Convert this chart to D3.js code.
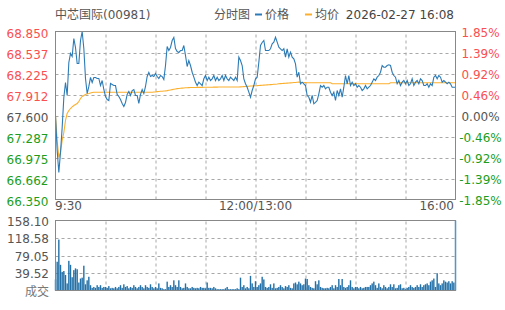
<!DOCTYPE html>
<html>
<head>
<meta charset="utf-8">
<script src="https://cdn.jsdelivr.net/npm/d3@7"></script>
<style>
  body { margin: 0; background: #fff; }
  svg text { font-family: "DejaVu Sans", "Noto Sans CJK SC", sans-serif; font-size: 12px; }
  .vgrid path { display: none; }
  .vgrid line { stroke: #a8a8a8; stroke-dasharray: 3,3; }
</style>
</head>
<body>
<svg id="chart" width="505" height="310"></svg>
<script>
// prev close 67.600, one point per ~1.4 minute
const prices = [
  67.600, 67.079, 66.752, 67.050, 67.422, 67.868, 68.091, 67.898, 68.389, 68.523,
  68.478, 68.746, 68.612, 68.374, 68.374, 68.716, 68.850, 68.597, 68.151, 67.927,
  68.032, 68.166, 68.091, 68.166, 68.166, 68.151, 68.151, 68.046, 68.121, 67.987,
  67.883, 67.838, 67.823, 68.076, 68.061, 68.046, 68.046, 67.913, 67.883, 67.838,
  67.779, 67.734, 67.794, 67.913, 67.957, 67.898, 67.972, 67.987, 67.898, 67.898,
  67.779, 67.913, 67.987, 67.927, 68.032, 68.180, 68.240, 68.180, 68.195, 68.180,
  68.225, 68.180, 68.151, 68.195, 68.180, 68.136, 68.344, 68.627, 68.567, 68.612,
  68.716, 68.761, 68.597, 68.552, 68.538, 68.567, 68.567, 68.642, 68.493, 68.329,
  68.418, 68.344, 68.244, 68.170, 68.096, 68.046, 68.096, 68.072, 68.046, 68.146,
  68.195, 68.121, 68.170, 68.121, 68.146, 68.195, 68.121, 68.170, 68.121, 68.146,
  68.195, 68.121, 68.195, 68.146, 68.121, 68.170, 68.146, 68.121, 68.170, 68.121,
  68.468, 68.418, 68.344, 68.146, 68.072, 68.021, 67.947, 67.872, 67.972, 68.046,
  68.146, 68.170, 68.393, 68.642, 68.686, 68.716, 68.567, 68.567, 68.567, 68.593,
  68.667, 68.691, 68.765, 68.691, 68.616, 68.593, 68.567, 68.593, 68.468, 68.593,
  68.468, 68.542, 68.468, 68.444, 68.369, 68.170, 68.244, 68.072, 68.096, 68.072,
  68.046, 67.898, 67.872, 67.798, 67.898, 67.774, 67.794, 67.823, 67.923, 68.046,
  68.021, 68.046, 67.997, 68.021, 68.021, 67.947, 67.898, 67.947, 67.823, 67.972,
  67.898, 67.997, 67.872, 68.021, 68.195, 68.072, 68.195, 68.046, 68.096, 68.046,
  68.072, 68.021, 68.046, 68.021, 67.972, 67.997, 68.046, 67.997, 68.021, 68.046,
  68.096, 68.146, 68.121, 68.170, 68.195, 68.244, 68.344, 68.319, 68.319, 68.344,
  68.355, 68.344, 68.244, 68.195, 68.170, 68.072, 68.121, 68.046, 68.096, 68.121,
  68.072, 68.121, 68.046, 68.072, 68.146, 68.046, 68.096, 68.121, 68.072, 68.146,
  68.121, 68.046, 68.046, 68.072, 68.021, 68.072, 68.046, 68.170, 68.195, 68.146,
  68.195, 68.170, 68.096, 68.121, 68.096, 68.072, 68.096, 68.072, 68.021, 68.021,
  68.021
];

const avgPrices = [
  67.600, 67.228, 66.975, 67.050, 67.228, 67.347, 67.526, 67.630, 67.674, 67.704,
  67.727, 67.749, 67.764, 67.779, 67.808, 67.853, 67.883, 67.898, 67.913, 67.923,
  67.927, 67.935, 67.942, 67.947, 67.947, 67.947, 67.947, 67.947, 67.947, 67.947,
  67.947, 67.947, 67.947, 67.947, 67.947, 67.947, 67.947, 67.947, 67.947, 67.947,
  67.947, 67.947, 67.947, 67.947, 67.947, 67.947, 67.947, 67.947, 67.947, 67.947,
  67.947, 67.947, 67.947, 67.947, 67.947, 67.947, 67.947, 67.947, 67.947, 67.950,
  67.952, 67.955, 67.957, 67.960, 67.962, 67.965, 67.967, 67.970, 67.975, 67.980,
  67.985, 67.990, 67.995, 68.000, 68.002, 68.005, 68.008, 68.010, 68.012, 68.014,
  68.015, 68.016, 68.016, 68.017, 68.017, 68.018, 68.018, 68.019, 68.019, 68.020,
  68.020, 68.020, 68.021, 68.021, 68.021, 68.022, 68.022, 68.022, 68.023, 68.023,
  68.023, 68.023, 68.024, 68.024, 68.024, 68.024, 68.024, 68.024, 68.024, 68.024,
  68.024, 68.026, 68.028, 68.030, 68.032, 68.034, 68.036, 68.038, 68.040, 68.042,
  68.043, 68.044, 68.046, 68.048, 68.050, 68.052, 68.054, 68.056, 68.058, 68.060,
  68.062, 68.064, 68.066, 68.068, 68.072, 68.074, 68.076, 68.078, 68.080, 68.082,
  68.084, 68.086, 68.088, 68.090, 68.092, 68.094, 68.096, 68.094, 68.092, 68.090,
  68.089, 68.088, 68.087, 68.087, 68.087, 68.087, 68.087, 68.087, 68.087, 68.087,
  68.087, 68.087, 68.087, 68.087, 68.087, 68.087, 68.072, 68.072, 68.072, 68.072,
  68.072, 68.072, 68.072, 68.072, 68.072, 68.072, 68.072, 68.072, 68.072, 68.072,
  68.072, 68.072, 68.072, 68.072, 68.072, 68.072, 68.072, 68.072, 68.072, 68.072,
  68.072, 68.072, 68.072, 68.072, 68.072, 68.072, 68.072, 68.072, 68.072, 68.072,
  68.072, 68.087, 68.087, 68.087, 68.087, 68.087, 68.087, 68.087, 68.087, 68.087,
  68.087, 68.087, 68.087, 68.087, 68.087, 68.087, 68.087, 68.087, 68.087, 68.087,
  68.087, 68.087, 68.087, 68.087, 68.087, 68.087, 68.087, 68.087, 68.087, 68.087,
  68.087, 68.087, 68.087, 68.087, 68.087, 68.087, 68.087, 68.087, 68.087, 68.087,
  68.087
];

const volumes = [
  25, 65, 115, 58, 42, 44, 35, 16, 67, 58,
  30, 46, 50, 48, 18, 27, 29, 56, 14, 23,
  31, 12, 6, 8, 6, 12, 8, 12, 6, 8,
  8, 6, 10, 5, 6, 5, 8, 5, 8, 12,
  6, 14, 8, 10, 5, 8, 6, 12, 8, 5,
  8, 12, 8, 5, 12, 8, 6, 14, 8, 5,
  8, 5, 16, 6, 5, 3, 3, 20, 8, 12,
  8, 23, 12, 8, 23, 8, 5, 6, 16, 8,
  5, 5, 8, 6, 5, 6, 5, 8, 6, 6,
  5, 18, 6, 6, 5, 8, 5, 3, 3, 3,
  3, 3, 5, 8, 3, 3, 3, 3, 3, 5,
  3, 29, 8, 12, 5, 8, 5, 33, 16, 8,
  21, 8, 12, 16, 31, 25, 8, 6, 8, 14,
  6, 16, 5, 6, 8, 12, 8, 5, 10, 8,
  12, 6, 5, 16, 18, 14, 20, 16, 12, 14,
  27, 26, 12, 8, 6, 5, 21, 14, 23, 8,
  6, 5, 5, 6, 5, 8, 12, 5, 12, 8,
  26, 12, 26, 8, 6, 8, 12, 23, 8, 5,
  8, 8, 5, 8, 5, 6, 8, 8, 8, 12,
  16, 20, 12, 6, 16, 8, 5, 12, 8, 5,
  8, 14, 8, 14, 5, 6, 12, 14, 5, 6,
  3, 6, 8, 12, 8, 6, 8, 12, 8, 14,
  8, 12, 14, 16, 12, 20, 23, 27, 8, 39,
  16, 12, 16, 23, 20, 18, 21, 16, 21, 18,
  158.1
];

const prevClose = 67.600;
const priceTicks = [68.850, 68.537, 68.225, 67.912, 67.600, 67.287, 66.975, 66.662, 66.350];
const pctTicks = ["1.85%", "1.39%", "0.92%", "0.46%", "0.00%", "-0.46%", "-0.92%", "-1.39%", "-1.85%"];
const volTicks = [158.10, 118.58, 79.05, 39.52];
const timeLabels = ["9:30", "12:00/13:00", "16:00"];

const red = "#fa5050", green = "#1c9e1c", grey = "#555";
const lineBlue = "#2c7bb6", avgOrange = "#fbb02d", barBlue = "#2170a8";

const svg = d3.select("#chart");
const left = 55.5, right = 455.5;
const n = prices.length;

const x = d3.scaleLinear().domain([0, n - 1]).range([left, right]);
const y = d3.scaleLinear().domain([66.350, 68.850]).range([199.5, 31.5]);
const yv = d3.scaleLinear().domain([0, 158.10]).range([290.5, 220.5]);

const colorOf = v => v > prevClose ? red : (v < prevClose ? green : grey);

// ---header---
svg.append("text").attr("x", 55).attr("y", 19).attr("fill", grey).text("中芯国际(00981)");
svg.append("text").attr("x", 214).attr("y", 19).attr("fill", grey).text("分时图");
svg.append("line").attr("x1", 255).attr("x2", 262).attr("y1", 14.5).attr("y2", 14.5)
  .attr("stroke", lineBlue).attr("stroke-width", 2);
svg.append("text").attr("x", 265).attr("y", 19).attr("fill", grey).text("价格");
svg.append("line").attr("x1", 305).attr("x2", 312).attr("y1", 14.5).attr("y2", 14.5)
  .attr("stroke", avgOrange).attr("stroke-width", 2);
svg.append("text").attr("x", 315).attr("y", 19).attr("fill", grey).text("均价");
svg.append("text").attr("x", 454).attr("y", 19).attr("text-anchor", "end").attr("fill", "#444")
  .text("2026-02-27 16:08");

// ---grids---
const vGrid = [30, 60, 90, 120, 150, 180, 210];
const gridColor = "#a8a8a8";
const hLines = priceTicks.slice(1, -1).map(d => Math.round(y(d)) + 0.5)
  .concat(volTicks.slice(1).map(d => Math.round(yv(d)) + 0.5));
svg.append("g").selectAll("line").data(hLines).join("line")
  .attr("x1", left).attr("x2", right).attr("y1", d => d).attr("y2", d => d)
  .attr("stroke", gridColor).attr("stroke-dasharray", "3,3");

// vertical grid via axes with long ticks
svg.append("g").attr("class", "vgrid")
  .attr("transform", `translate(0,${y(66.350)})`)
  .call(d3.axisBottom(x).tickValues(vGrid).tickSize(-(y(66.350) - y(68.850))).tickFormat(""));
svg.append("g").attr("class", "vgrid")
  .attr("transform", `translate(0,${yv(0)})`)
  .call(d3.axisBottom(x).tickValues(vGrid).tickSize(-(yv(0) - yv(158.10))).tickFormat(""));

// ---axis labels---
svg.selectAll(".pl").data(priceTicks).join("text")
  .attr("class", "pl")
  .attr("x", 48.5).attr("y", d => y(d) + 6.5)
  .attr("text-anchor", "end")
  .attr("fill", d => colorOf(d))
  .text(d => d.toFixed(3));

svg.selectAll(".pr").data(pctTicks).join("text")
  .attr("class", "pr")
  .attr("x", 480.5).attr("y", (d, i) => y(priceTicks[i]) + 5.5)
  .attr("text-anchor", "middle")
  .attr("fill", (d, i) => colorOf(priceTicks[i]))
  .text(d => d);

svg.selectAll(".vl").data(volTicks).join("text")
  .attr("class", "vl")
  .attr("x", 49).attr("y", d => yv(d) + 5)
  .attr("text-anchor", "end").attr("fill", grey)
  .text(d => d.toFixed(2));
svg.append("text").attr("x", 49).attr("y", 296).attr("text-anchor", "end")
  .attr("fill", "#777").text("成交");

svg.selectAll(".tl").data(timeLabels).join("text")
  .attr("class", "tl")
  .attr("x", (d, i) => [left - 0.5, (left + right) / 2, right - 1.5][i])
  .attr("y", 210)
  .attr("text-anchor", (d, i) => ["start", "middle", "end"][i])
  .attr("fill", grey)
  .text(d => d);

// ---volume bars---
svg.append("g").selectAll("rect").data(volumes).join("rect")
  .attr("x", (d, i) => x(i) - 0.7)
  .attr("y", d => yv(d))
  .attr("width", 1.4)
  .attr("height", d => yv(0) - yv(d))
  .attr("fill", barBlue);

// ---lines---
const line = d3.line().x((d, i) => x(i)).y(d => y(d));
svg.append("path").attr("d", line(avgPrices))
  .attr("fill", "none").attr("stroke", avgOrange).attr("stroke-width", 1.1);
svg.append("path").attr("d", line(prices))
  .attr("fill", "none").attr("stroke", lineBlue).attr("stroke-width", 1.1);

// ---frames---
svg.append("rect").attr("x", left).attr("y", y(68.850))
  .attr("width", right - left).attr("height", y(66.350) - y(68.850))
  .attr("fill", "none").attr("stroke", "#888");
svg.append("rect").attr("x", left).attr("y", yv(158.10))
  .attr("width", right - left).attr("height", yv(0) - yv(158.10))
  .attr("fill", "none").attr("stroke", "#888");
</script>
</body>
</html>
